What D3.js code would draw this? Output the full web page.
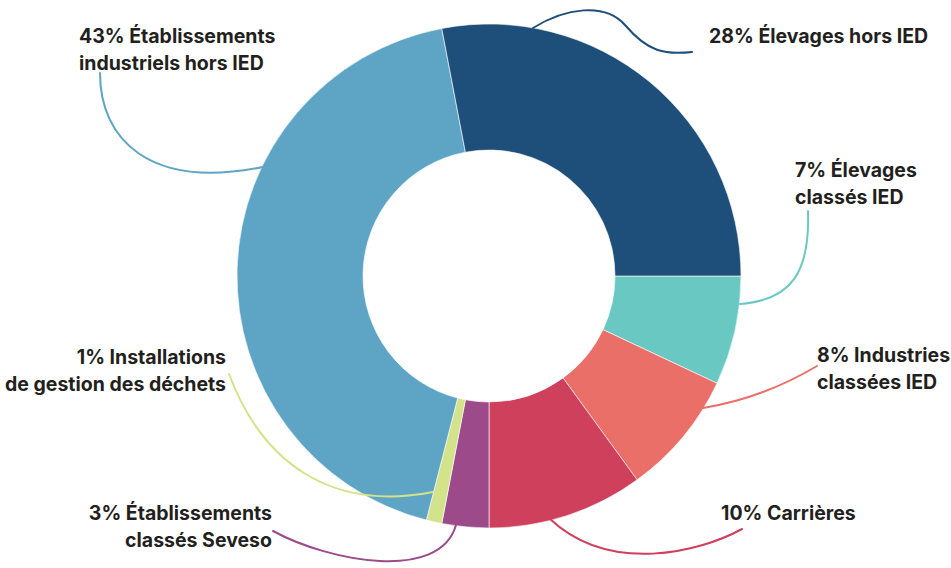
<!DOCTYPE html>
<html>
<head>
<meta charset="utf-8">
<script src="https://cdn.jsdelivr.net/npm/d3@7"></script>
<style>
  html, body { margin: 0; padding: 0; background: #fff; }
  svg { display: block; }
  text { font-family: Inter, "Open Sans", sans-serif; font-weight: 700; fill: #231f20; }
</style>
</head>
<body>
<svg id="chart" width="951" height="568"></svg>
<script>
// ---- data (clockwise from 3 o'clock) ----
const categories = [
  "Élevages classés IED",
  "Industries classées IED",
  "Carrières",
  "Établissements classés Seveso",
  "Installations de gestion des déchets",
  "Établissements industriels hors IED",
  "Élevages hors IED"
];
const values = [7, 8, 10, 3, 1, 43, 28];
const labelLines = [
  ["7% Élevages", "classés IED"],
  ["8% Industries", "classées IED"],
  ["10% Carrières"],
  ["3% Établissements", "classés Seveso"],
  ["1% Installations", "de gestion des déchets"],
  ["43% Établissements", "industriels hors IED"],
  ["28% Élevages hors IED"]
];
const colors = ["#6ac8c2", "#ea6f68", "#cf405d", "#9c4a8a", "#d3e38b", "#5ea4c5", "#1e4f7a"];

// ---- layout ----
const W = 951, H = 568;
const cx = 489, cy = 276, rOuter = 252, rInner = 126;
const labelLayout = [
  { x: 795, y: 177, anchor: "start" },
  { x: 817, y: 362, anchor: "start" },
  { x: 721, y: 520, anchor: "start" },
  { x: 272, y: 520, anchor: "end" },
  { x: 226, y: 364, anchor: "end" },
  { x: 79,  y: 43,  anchor: "start" },
  { x: 709, y: 43,  anchor: "start" }
];
const connectors = [
  "M808,211 C810,272 792,300 740,304",
  "M817,366 C780,388 740,402 703,408",
  "M742,529 C700,552 610,575 550,519",
  "M273,531 C330,562 440,582 456,525",
  "M229,374 C262,462 330,512 433,492",
  "M100,73 C100,140 150,190 263,167",
  "M533,28 C565,8 605,2 625,25 C648,52 665,55 692,52"
];

const svg = d3.select("#chart");

const pie = d3.pie()
  .value(d => d)
  .sort(null)
  .startAngle(Math.PI / 2)
  .endAngle(Math.PI / 2 + 2 * Math.PI);

const arc = d3.arc().innerRadius(rInner).outerRadius(rOuter);

const g = svg.append("g").attr("transform", `translate(${cx},${cy})`);
g.selectAll("path")
  .data(pie(values))
  .join("path")
  .attr("d", arc)
  .attr("fill", (d, i) => colors[i])
  .attr("stroke", "#fff")
  .attr("stroke-width", 0.6);

svg.append("g").selectAll("path")
  .data(connectors)
  .join("path")
  .attr("d", d => d)
  .attr("fill", "none")
  .attr("stroke", (d, i) => colors[i])
  .attr("stroke-width", 2)
  .attr("stroke-linecap", "round");

const labels = svg.append("g").selectAll("text")
  .data(labelLines)
  .join("text")
  .attr("x", (d, i) => labelLayout[i].x)
  .attr("y", (d, i) => labelLayout[i].y)
  .attr("text-anchor", (d, i) => labelLayout[i].anchor)
  .style("font-size", "19.5px");

labels.selectAll("tspan")
  .data((d, i) => d.map(t => ({ t, x: labelLayout[i].x })))
  .join("tspan")
  .attr("x", d => d.x)
  .attr("dy", (d, j) => j === 0 ? 0 : 26.5)
  .text(d => d.t);
</script>
</body>
</html>
